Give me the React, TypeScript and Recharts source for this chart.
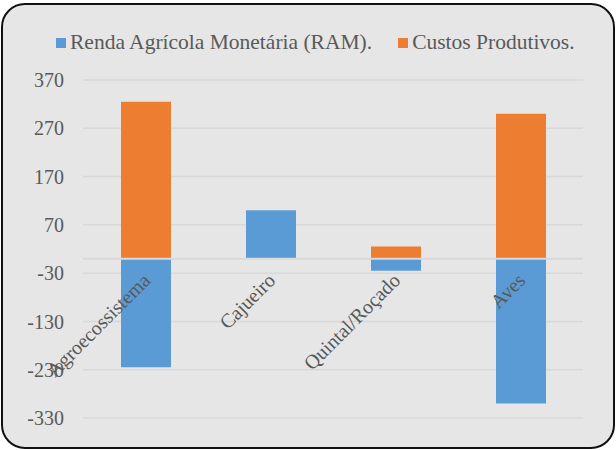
import { Bar, BarChart, CartesianGrid, LabelList, Legend, ReferenceLine, XAxis, YAxis } from "recharts";

const categories = ["Agroecossistema", "Cajueiro", "Quintal/Roçado", "Aves"];
const ram = [-225, 100, -25, -300];
const custos = [325, 0, 25, 300];
const yTicks = [370, 270, 170, 70, -30, -130, -230, -330];

const seriesNames = ["Renda Agrícola Monetária (RAM).", "Custos Produtivos."];
const BLUE = "#5b9bd5";
const ORANGE = "#ed7d31";
const INK = "#595959";
const FONT = "Liberation Serif";

const data = categories.map((name, i) => ({ name, ram: ram[i], custos: custos[i] }));

// category names sit just under the zero line, rotated like Excel does it
function CategoryLabel(props: any) {
  const vb = props.viewBox ?? props;
  const { x, y, width, height } = vb;
  const idx = props.index;
  const top = Math.min(y, y + height);
  const bottom = Math.max(y, y + height);
  const zeroY = ram[idx] >= 0 ? bottom : top;
  const px = x + width / 2 + 5.5;
  const py = zeroY + 23;
  return (
    <text
      x={px}
      y={py}
      transform={`rotate(-45 ${px} ${py})`}
      textAnchor="end"
      fill={INK}
      fontSize={20}
      fontFamily={FONT}
    >
      {categories[idx]}
    </text>
  );
}

function LegendBox() {
  const colors = [BLUE, ORANGE];
  return (
    <div style={{ display: "flex", alignItems: "center", fontFamily: FONT, fontSize: 21.5, color: INK }}>
      {seriesNames.map((s, i) => (
        <div key={s} style={{ display: "flex", alignItems: "center", marginRight: i === 0 ? 26 : 0 }}>
          <span style={{ width: 10, height: 10, background: colors[i], display: "inline-block", marginRight: 4 }} />
          <span>{s}</span>
        </div>
      ))}
    </div>
  );
}

export default function App() {
  return (
    <div style={{ position: "relative", width: 616, height: 450, background: "#fff" }}>
      <style>{"body{margin:0}"}</style>
      <div
        style={{
          position: "absolute",
          left: 1,
          top: 3,
          width: 614,
          height: 446,
          boxSizing: "border-box",
          border: "2px solid #111",
          borderRadius: 24,
          background: "#e6e6e6",
        }}
      />
      <div style={{ position: "absolute", left: 0, top: 0 }}>
        <BarChart
          width={616}
          height={450}
          data={data}
          stackOffset="sign"
          margin={{ top: 80, right: 33, bottom: 32, left: 0 }}
        >
          <CartesianGrid vertical={false} stroke="#d8d8d8" strokeWidth={1.5} />
          <XAxis dataKey="name" hide />
          <YAxis
            domain={[-330, 370]}
            ticks={yTicks}
            width={83}
            axisLine={false}
            tickLine={false}
            tickSize={0}
            tickMargin={19}
            tick={{ fill: INK, fontSize: 20, fontFamily: FONT }}
          />
          <Legend
            verticalAlign="middle"
            align="center"
            content={<LegendBox />}
            wrapperStyle={{ top: 30, left: 56, width: 560 }}
          />
          <Bar dataKey="ram" stackId="a" fill={BLUE} barSize={50} isAnimationActive={false}>
            <LabelList dataKey="ram" content={<CategoryLabel />} />
          </Bar>
          <Bar dataKey="custos" stackId="a" fill={ORANGE} barSize={50} isAnimationActive={false} />
          <ReferenceLine y={0} stroke="#d9d9d9" strokeWidth={2} />
        </BarChart>
      </div>
    </div>
  );
}
